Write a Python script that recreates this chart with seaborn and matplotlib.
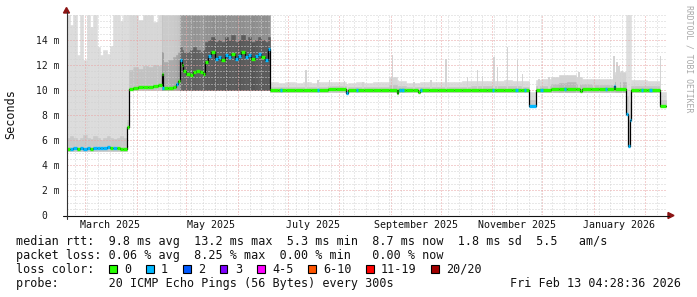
import numpy as np
import pandas as pd
import matplotlib
matplotlib.use("Agg")
import matplotlib.pyplot as plt
import matplotlib.dates as mdates
from matplotlib.ticker import MultipleLocator
from matplotlib.patches import Rectangle, Polygon
from matplotlib.lines import Line2D
import seaborn as sns

# ------------------------------------------------------------------ data
sample_dates = [
    # Feb-Mar 2025 (~5.3 ms)
    "2025-02-18", "2025-02-20", "2025-02-22", "2025-02-24", "2025-02-26", "2025-02-28", "2025-03-02",
    "2025-03-04", "2025-03-06", "2025-03-08", "2025-03-10", "2025-03-12", "2025-03-14", "2025-03-16",
    "2025-03-18", "2025-03-20", "2025-03-22", "2025-03-24", "2025-03-26 06:00",
    # Apr 2025 (~10.2 ms)
    "2025-03-27 12:00", "2025-03-30", "2025-04-02", "2025-04-05", "2025-04-08", "2025-04-11", "2025-04-14",
    "2025-04-16", "2025-04-17", "2025-04-20", "2025-04-23", "2025-04-25", "2025-04-26", "2025-04-27 06:00",
    # early May 2025 (~11.4 ms)
    "2025-04-28 06:00", "2025-04-29", "2025-05-01", "2025-05-03", "2025-05-05", "2025-05-07", "2025-05-09",
    "2025-05-11", "2025-05-12 06:00",
    # mid May - Jun 2025 (~12.7 ms)
    "2025-05-14", "2025-05-16", "2025-05-18", "2025-05-20", "2025-05-22", "2025-05-24", "2025-05-26",
    "2025-05-28", "2025-05-30", "2025-06-01", "2025-06-03", "2025-06-05", "2025-06-07", "2025-06-09",
    "2025-06-11", "2025-06-13", "2025-06-15", "2025-06-17", "2025-06-19",
    # late Jun 2025 - Feb 2026 (~10 ms)
    "2025-06-20 08:00", "2025-06-25", "2025-06-30", "2025-07-05", "2025-07-10", "2025-07-15", "2025-07-20",
    "2025-07-25", "2025-07-30", "2025-08-05", "2025-08-06", "2025-08-11", "2025-08-16", "2025-08-21",
    "2025-08-26", "2025-08-31", "2025-09-04 12:00", "2025-09-05 12:00", "2025-09-10", "2025-09-14",
    "2025-09-17 12:00", "2025-09-18 12:00", "2025-09-24", "2025-09-29", "2025-10-04", "2025-10-09",
    "2025-10-14", "2025-10-19", "2025-10-24", "2025-10-29", "2025-11-03", "2025-11-08", "2025-11-13",
    "2025-11-18", "2025-11-23 06:00", "2025-11-27", "2025-12-01", "2025-12-06", "2025-12-11", "2025-12-16",
    "2025-12-21", "2025-12-23 18:00", "2025-12-24 18:00", "2025-12-30", "2026-01-04", "2026-01-09",
    "2026-01-13", "2026-01-14", "2026-01-20 07:00", "2026-01-21 07:00", "2026-01-22 12:00",
    "2026-01-23 06:00", "2026-01-28", "2026-02-02", "2026-02-09 12:00",
]
median_ms = [
    5.30, 5.28, 5.32, 5.30, 5.34, 5.30, 5.32, 5.28, 5.34, 5.36, 5.32, 5.36, 5.40, 5.35, 5.38, 5.33, 5.30, 5.28, 7.00,
    10.10, 10.15, 10.20, 10.25, 10.22, 10.30, 10.38, 11.25, 10.15, 10.12, 10.22, 10.50, 10.70, 12.40,
    12.00, 11.50, 11.30, 11.20, 11.40, 11.50, 11.40, 11.30, 12.20,
    12.70, 13.00, 12.50, 12.60, 12.40, 12.80, 12.60, 12.90, 12.50, 12.70, 13.00, 12.60, 12.80, 12.50,
    12.70, 12.90, 12.60, 12.40, 13.30,
    9.98, 9.98, 9.98, 9.98, 9.98, 9.98, 10.00, 10.08, 10.05, 9.75, 9.98, 9.98, 9.98, 9.98, 9.98, 10.00,
    9.75, 9.98, 9.98, 9.98, 9.85, 9.98, 9.98, 9.98, 9.98, 9.98, 10.00, 10.00, 10.00, 10.00, 10.00, 10.00,
    10.00, 10.00, 8.70, 10.00, 10.02, 10.05, 10.05, 10.05, 10.05, 9.92, 10.05, 10.08, 10.05, 10.05,
    10.30, 10.05, 8.10, 5.50, 7.60, 10.00, 10.00, 10.00, 8.70,
]
loss_pings = [
    0, 1, 1, 0, 1, 1, 1, 0, 1, 1, 1, 1, 1, 0, 1, 0, 0, 0, 0,
    0, 0, 0, 0, 0, 0, 0, 0, 0, 0, 0, 1, 0, 1,
    0, 0, 0, 0, 0, 0, 0, 0, 0,
    1, 0, 1, 1, 0, 1, 1, 0, 1, 1, 0, 1, 1, 0, 1, 1, 0, 1, 1,
    0, 0, 0, 0, 0, 0, 0, 0, 0, 1, 0, 0, 0, 0, 0, 0,
    0, 0, 0, 0, 0, 0, 0, 0, 0, 0, 0, 0, 0, 0, 0, 0,
    0, 0, 1, 0, 0, 0, 0, 0, 0, 0, 0, 0, 0, 0,
    1, 0, 1, 1, 1, 0, 0, 0, 0,
]
smoke_lo = [
    5.10, 5.10, 5.10, 5.10, 5.10, 5.10, 5.10, 5.10, 5.10, 5.10, 5.10, 5.10, 5.10, 5.10, 5.10, 5.10, 5.10, 5.10, 6.90,
    10.0, 10.0, 10.0, 10.0, 10.0, 10.0, 10.0, 10.0, 10.0, 10.0, 10.0, 10.0, 10.0, 10.0,
    10.0, 10.0, 10.0, 10.0, 10.0, 10.0, 10.0, 10.0, 10.0,
    10.0, 10.0, 10.0, 10.0, 10.0, 10.0, 10.0, 10.0, 10.0, 10.0, 10.0, 10.0, 10.0, 10.0,
    10.0, 10.0, 10.0, 10.0, 10.0,
    9.80, 9.80, 9.80, 9.80, 9.80, 9.80, 9.82, 9.85, 9.85, 9.65, 9.80, 9.80, 9.80, 9.80, 9.80, 9.80,
    9.65, 9.80, 9.80, 9.80, 9.75, 9.80, 9.80, 9.80, 9.80, 9.80, 9.80, 9.80, 9.80, 9.80, 9.80, 9.80,
    9.80, 9.80, 8.60, 9.80, 9.80, 9.85, 9.85, 9.85, 9.85, 9.80, 9.85, 9.85, 9.85, 9.85,
    9.90, 9.85, 8.00, 5.40, 7.50, 9.80, 9.80, 9.80, 8.60,
]
smoke_core = [
    6.2, 6.3, 6.2, 6.0, 6.2, 6.4, 6.2, 6.1, 6.3, 6.2, 6.0, 6.2, 6.3, 6.2, 6.1, 6.2, 6.3, 6.2, 7.6,
    11.6, 11.8, 11.7, 11.9, 11.8, 12.0, 11.9, 13.0, 12.2, 12.4, 12.6, 12.8, 13.0, 13.4,
    13.2, 13.0, 13.0, 13.2, 13.4, 13.2, 13.0, 13.2, 13.8,
    14.0, 14.2, 13.8, 14.0, 13.8, 14.2, 14.0, 14.4, 13.8, 14.0, 14.4, 14.0, 14.2, 13.8,
    14.0, 14.2, 14.0, 13.8, 14.2,
    10.25, 10.20, 10.25, 10.20, 10.25, 10.20, 10.25, 10.30, 10.30, 10.10, 10.20, 10.25, 10.20, 10.25, 10.20, 10.40,
    10.20, 10.30, 10.20, 10.20, 10.20, 10.25, 10.20, 10.25, 10.20, 10.25, 10.25, 10.30, 10.30, 10.30, 10.30, 10.30,
    10.30, 10.25, 9.20, 10.30, 10.35, 10.45, 10.55, 10.60, 10.50, 10.40, 10.45, 10.40, 10.40, 10.40,
    10.60, 10.60, 9.50, 8.00, 9.00, 10.30, 10.30, 10.30, 9.20,
]
smoke_hi = [
    16.0, 15.2, 16.0, 12.8, 16.0, 12.4, 16.0, 15.0, 16.0, 13.4, 12.8, 13.2, 12.9, 13.5, 16.0, 16.0, 15.5, 16.0, 16.0,
    16.0, 16.0, 15.6, 16.0, 16.0, 15.4, 16.0, 16.0, 16.0, 16.0, 16.0, 16.0, 16.0, 16.0,
    16.0, 16.0, 16.0, 16.0, 16.0, 16.0, 16.0, 16.0, 16.0,
    16.0, 16.0, 16.0, 16.0, 16.0, 16.0, 16.0, 16.0, 16.0, 16.0, 16.0, 16.0, 16.0, 16.0,
    16.0, 16.0, 16.0, 16.0, 16.0,
    10.60, 10.55, 10.60, 10.55, 10.60, 10.55, 10.60, 10.65, 10.60, 10.50, 10.55, 10.60, 10.55, 10.60, 10.60, 11.00,
    10.80, 10.70, 10.55, 10.55, 10.55, 10.60, 10.60, 10.60, 10.60, 10.65, 10.70, 10.75, 10.75, 10.70, 10.75, 10.80,
    10.75, 10.70, 9.80, 10.80, 10.90, 11.00, 11.20, 11.20, 11.00, 11.00, 10.90, 10.90, 10.90, 10.90,
    11.20, 11.40, 16.00, 16.00, 16.00, 10.80, 10.80, 10.75, 9.80,
]
smoke_density = [
    0.05, 0.05, 0.05, 0.05, 0.05, 0.05, 0.05, 0.05, 0.05, 0.05, 0.05, 0.05, 0.05, 0.05, 0.05, 0.05, 0.05, 0.05, 0.05,
    0.12, 0.12, 0.12, 0.12, 0.12, 0.12, 0.12, 0.45, 0.30, 0.30, 0.32, 0.35, 0.40, 0.80,
    0.88, 0.85, 0.85, 0.88, 0.90, 0.88, 0.85, 0.88, 0.92,
    0.92, 0.95, 0.95, 0.92, 0.95, 0.98, 0.95, 0.92, 0.95, 0.98, 0.95, 0.92, 0.95, 0.98,
    0.95, 0.92, 0.95, 0.95, 0.92,
    0.05, 0.05, 0.05, 0.05, 0.05, 0.05, 0.05, 0.05, 0.05, 0.05, 0.05, 0.05, 0.05, 0.05, 0.05, 0.12,
    0.08, 0.08, 0.05, 0.05, 0.05, 0.05, 0.05, 0.05, 0.05, 0.05, 0.06, 0.08, 0.08, 0.08, 0.08, 0.08,
    0.08, 0.06, 0.05, 0.08, 0.10, 0.15, 0.20, 0.20, 0.15, 0.15, 0.12, 0.12, 0.12, 0.12,
    0.20, 0.20, 0.02, 0.02, 0.02, 0.08, 0.08, 0.08, 0.05,
]

# short single-ping-loss blips on the median
blip_dates = ["2025-04-17", "2025-06-27", "2025-07-19", "2025-08-11 12:00", "2025-09-06 12:00", "2025-09-08",
              "2025-09-19", "2025-11-01 12:00", "2025-11-15 12:00", "2025-11-20 12:00", "2025-11-30 12:00",
              "2025-12-14 12:00", "2026-01-08 12:00", "2026-01-30", "2026-02-04"]
blip_median = [10.15, 9.98, 9.98, 9.98, 9.98, 9.98, 9.98, 10.00, 10.00, 10.00, 10.00, 10.05, 10.05, 10.00, 10.00]

# isolated slow pings (thin smoke spikes)
spike_dates = ["2025-07-12", "2025-07-19", "2025-07-26", "2025-08-04", "2025-08-15", "2025-09-02", "2025-09-15",
               "2025-09-25", "2025-10-04", "2025-10-17", "2025-10-23", "2025-10-26", "2025-11-02", "2025-11-04",
               "2025-11-10", "2025-11-16", "2025-11-19", "2025-11-29", "2025-12-05", "2025-12-23", "2026-01-01",
               "2026-01-13", "2026-01-15", "2026-01-16", "2026-01-18", "2026-02-10"]
spike_tops = [11.6, 10.8, 10.8, 10.7, 10.6, 12.8, 10.6, 10.8, 12.45, 11.0, 11.6, 11.1, 12.6, 11.8, 13.4, 12.4,
              11.3, 10.9, 11.0, 11.4, 10.8, 12.7, 12.2, 11.9, 11.5, 12.7]

data_end = "2026-02-13 04:28:36"
view_start = "2025-02-18 04:00"
view_end = "2026-02-14 00:00"

ytick_values = [0, 2, 4, 6, 8, 10, 12, 14]
ytick_labels = ["0  ", "2 m", "4 m", "6 m", "8 m", "10 m", "12 m", "14 m"]
xlabel_dates = ["2025-03-16", "2025-05-16", "2025-07-16", "2025-09-16", "2025-11-16", "2026-01-16"]
xlabel_texts = ["March 2025", "May 2025", "July 2025", "September 2025", "November 2025", "January 2026"]

loss_labels = ["0", "1", "2", "3", "4-5", "6-10", "11-19", "20/20"]
loss_colors = ["#26ff00", "#00b8ff", "#0059ff", "#7e00ff", "#ff00ff", "#ff5500", "#ff0000", "#a10000"]

row_median = "median rtt:  9.8 ms avg  13.2 ms max  5.3 ms min  8.7 ms now  1.8 ms sd  5.5   am/s"
row_loss = "packet loss: 0.06 % avg  8.25 % max  0.00 % min   0.00 % now"
row_color = "loss color:"
row_probe = "probe:       20 ICMP Echo Pings (56 Bytes) every 300s"
stamp = "Fri Feb 13 04:28:36 2026"
watermark = "RRDTOOL / TOBI OETIKER"
ylabel = "Seconds"

# ------------------------------------------------------------------ style
sns.set_theme(style="white")
plt.rcParams["font.family"] = ["DejaVu Sans Mono", "DejaVu Sans"]

W, H = 697, 297
L, R, T, B = 67, 667, 15, 215
fig = plt.figure(figsize=(W / 100, H / 100), dpi=100, facecolor="white")
ax = fig.add_axes([L / W, (H - B) / H, (R - L) / W, (B - T) / H])
ax.set_facecolor("white")


def px(x, y):
    return (x / W, 1 - y / H)


def to_num(values):
    return mdates.date2num(pd.to_datetime(pd.Series(values), format="mixed").to_numpy())


t0 = to_num(sample_dates)
tend = to_num([data_end])[0]
t1 = np.append(t0[1:], tend)
med = np.array(median_ms)

# smoke
cmap = plt.get_cmap("Greys")
dens = np.array(smoke_density)
outer = cmap(0.22 + 0.32 * dens)
core = cmap(0.30 + 0.44 * dens)
lo, co, hi = np.array(smoke_lo), np.array(smoke_core), np.array(smoke_hi)
ax.bar(t0, hi - lo, width=t1 - t0, bottom=lo, align="edge", color=outer,
       edgecolor=outer, linewidth=0.4, zorder=1)
ax.bar(t0, co - lo, width=t1 - t0, bottom=lo, align="edge", color=core,
       edgecolor=core, linewidth=0.4, zorder=1.1)

sp = to_num(spike_dates)
idx = np.searchsorted(t0, sp, side="right") - 1
base = med[idx]
ax.bar(sp, np.array(spike_tops) - base, width=1.0, bottom=base, color=cmap(0.27),
       linewidth=0, zorder=1.2)

# median: black step line + loss-colored segments
xs = np.append(t0, tend)
ys = np.append(med, med[-1])
sns.lineplot(x=xs, y=ys, drawstyle="steps-post", color="black", linewidth=0.9,
             ax=ax, zorder=3, sort=False, estimator=None)
seg_colors = [loss_colors[k] for k in loss_pings]
ax.hlines(med, t0, t1, colors=seg_colors, linewidth=2.4, zorder=4, capstyle="butt")
bx = to_num(blip_dates)
ax.hlines(blip_median, bx - 0.7, bx + 0.7, colors=loss_colors[1], linewidth=2.4,
          zorder=5, capstyle="butt")

# axes, grid
ax.set_xlim(to_num([view_start])[0], to_num([view_end])[0])
ax.set_ylim(0, 16)
ax.set_xlabel("")
ax.set_ylabel("")
ax.xaxis.set_major_locator(mdates.MonthLocator())
ax.xaxis.set_minor_locator(mdates.WeekdayLocator(byweekday=mdates.SU))
ax.set_yticks(ytick_values, ytick_labels)
ax.yaxis.set_minor_locator(MultipleLocator(0.5))
ax.set_axisbelow(False)
ax.grid(which="minor", color="#d2d2d2", linestyle=(0, (1, 2)), linewidth=0.72)
ax.grid(which="major", color="#e8a3a3", linestyle=(0, (1, 2)), linewidth=0.72)
ax.tick_params(axis="x", which="both", length=0, labelbottom=False)
ax.tick_params(axis="y", which="both", length=0, pad=5.4, labelsize=7, labelcolor="#1a1a1a")
for s in ax.spines.values():
    s.set_visible(False)

xaxis_tf = ax.get_xaxis_transform()
for xd, s in zip(to_num(xlabel_dates), xlabel_texts):
    ax.text(xd, -9.5 / (B - T), s, transform=xaxis_tf, ha="center", va="center",
            fontsize=7.2, color="#111111")

# axis lines with arrows
tf = fig.transFigure
fig.add_artist(Line2D([63 / W, 669 / W], [1 - 215.5 / H] * 2, color="#111111", lw=0.8, transform=tf))
fig.add_artist(Line2D([66.5 / W] * 2, [1 - 219 / H, 1 - 12 / H], color="#333333", lw=0.8, transform=tf))
fig.add_artist(Polygon([px(668, 212.5), px(668, 218.5), px(674, 215.5)], closed=True,
                       color="#8b1414", transform=tf))
fig.add_artist(Polygon([px(63.5, 13), px(69.5, 13), px(66.5, 7.5)], closed=True,
                       color="#8b1414", transform=tf))

# side texts
fig.text(*px(10.7, 114), ylabel, rotation=90, ha="center", va="center", fontsize=8.5, color="#111111")
fig.text(*px(689, 59), watermark, rotation=270, ha="center", va="center", fontsize=5.9, color="#a8a8a8")

# legend rows
fs = 8.5
fig.text(*px(16, 241.5), row_median, ha="left", va="center", fontsize=fs, color="#111111")
fig.text(*px(16, 255.5), row_loss, ha="left", va="center", fontsize=fs, color="#111111")
fig.text(*px(16, 269.5), row_color, ha="left", va="center", fontsize=fs, color="#111111")
fig.text(*px(16, 283.5), row_probe, ha="left", va="center", fontsize=fs, color="#111111")
fig.text(*px(680.5, 283.5), stamp, ha="right", va="center", fontsize=fs, color="#111111")

bx0 = 109.0
for lab, col in zip(loss_labels, loss_colors):
    fig.add_artist(Rectangle(px(bx0, 272.5), 7.5 / W, 7.5 / H, transform=tf,
                             facecolor=col, edgecolor="black", linewidth=0.8))
    fig.text(*px(bx0 + 15, 269.5), lab, ha="left", va="center", fontsize=fs, color="#111111")
    bx0 = bx0 + 15 + 7.0 * len(lab) + 15

fig.savefig("out.png", dpi=100, facecolor="white")
